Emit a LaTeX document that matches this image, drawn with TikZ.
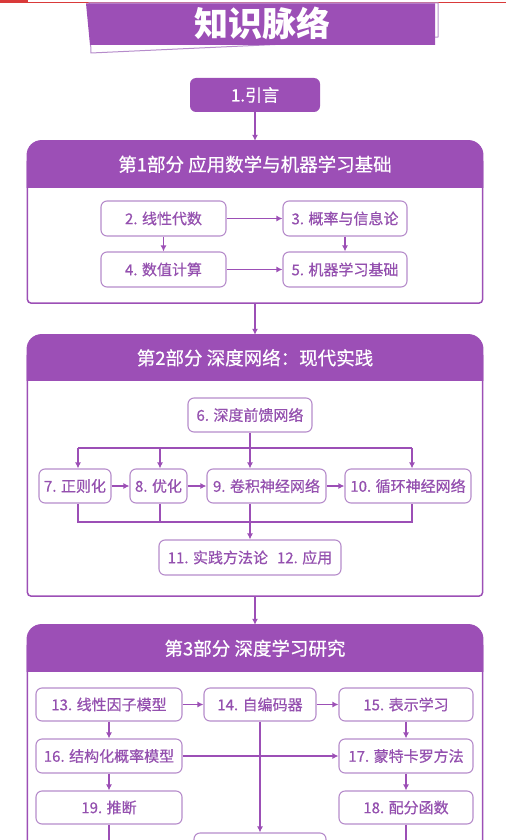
\documentclass[tikz,border=0pt]{standalone}
\usepackage{fontspec}
\setmainfont{Noto Sans CJK SC}
\newfontfamily\medfont{Noto Sans CJK SC}[FakeBold=0.6]
\usetikzlibrary{arrows.meta}
\definecolor{pp}{HTML}{9C4FB6}
\definecolor{pbord}{HTML}{B68CCB}
\definecolor{ptext}{HTML}{9450AF}
\definecolor{rd}{HTML}{D93A3A}
\tikzset{
  box/.style={draw=pbord, line width=1.1pt, fill=white, rounded corners=6pt, text=ptext,
    font=\medfont\fontsize{15}{17}\selectfont, minimum height=34pt, inner sep=0pt},
  arr/.style={draw=pp, line width=1.6pt, -{Latex[length=6pt,width=6pt]}},
  ln/.style={draw=pp, line width=1.6pt},
  hdr/.style={text=white, font=\medfont\fontsize{18.5}{20}\selectfont},
  partbox/.style={minimum width=455pt, inner sep=0pt}
}
\newcommand\mkpart[3]{%
  \draw[pp, line width=1.5pt, rounded corners=4pt] ([yshift=-20pt]#1.north west) -- (#1.south west) -- (#1.south east) -- ([yshift=-20pt]#1.north east);
  \begin{scope}
    \clip ([xshift=-2pt,yshift=2pt]#1.north west) rectangle ([xshift=2pt,yshift=-#2]#1.north east);
    \fill[pp, rounded corners=15pt] ([xshift=-0.75pt,yshift=0.75pt]#1.north west) rectangle ([xshift=0.75pt,yshift=-#2-30pt]#1.north east);
  \end{scope}
  \node[hdr] at ([yshift=-#2/2]#1.north) {#3};
}
\begin{document}
\begin{tikzpicture}[x=1pt,y=-1pt]
\useasboundingbox (0,0) rectangle (506,840);
\clip (0,0) rectangle (506,840);
% top red rule
\fill[rd] (0,0) rectangle (28,3);
\draw[rd, line width=0.8pt] (28,2.5) -- (506,2.5);
% title banner
\filldraw[fill=white, draw=pbord, line width=1pt] (89,3) -- (438,3) -- (438,37) -- (91,53) -- cycle;
\fill[pp] (86,3.4) -- (435,3.4) -- (435,45) -- (90,45) -- cycle;
\node[text=white, font=\fontsize{34}{36}\selectfont\bfseries] (title) at (262,23) {知识脉络};
% intro node
\node[fill=pp, rounded corners=6pt, minimum width=130pt, minimum height=34pt, inner sep=0pt,
  text=white, font=\medfont\fontsize{17}{19}\selectfont] (n1) at (255,95) {1.引言};

% part boxes
\node[partbox, minimum height=162pt] (p1) at (255,222) {};
\node[partbox, minimum height=261pt] (p2) at (255,465.5) {};
\node[partbox, minimum height=275pt] (p3) at (255,762.5) {};
\mkpart{p1}{47pt}{第1部分 应用数学与机器学习基础}
\mkpart{p2}{46pt}{第2部分 深度网络：现代实践}
\mkpart{p3}{47pt}{第3部分 深度学习研究}

\draw[arr] (n1.south) -- (n1.south |- p1.north);
\draw[arr] (p1.south) -- (p2.north);
\draw[arr] (p2.south) -- (p3.north);

% part 1
\node[box, minimum width=125pt, minimum height=35pt] (n2) at (163.5,218.5) {2. 线性代数};
\node[box, minimum width=124pt, minimum height=35pt] (n3) at (345,218.5) {3. 概率与信息论};
\node[box, minimum width=125pt, minimum height=35pt] (n4) at (163.5,269.5) {4. 数值计算};
\node[box, minimum width=124pt, minimum height=35pt] (n5) at (345,269.5) {5. 机器学习基础};
\draw[arr] (n2) -- (n3);
\draw[arr] (n4) -- (n5);
\draw[arr] (n2) -- (n4);
\draw[arr] (n3) -- (n5);

% part 2
\node[box, minimum width=124pt] (n6) at (250,415) {6. 深度前馈网络};
\node[box, minimum width=72pt] (n7) at (75,486) {7. 正则化};
\node[box, minimum width=57pt] (n8) at (158.5,486) {8. 优化};
\node[box, minimum width=119pt] (n9) at (266.5,486) {9. 卷积神经网络};
\node[box, minimum width=126pt] (n10) at (408,486) {10. 循环神经网络};
\node[box, minimum width=182pt, minimum height=35pt] (n11) at (250,557.5) {11. 实践方法论\hspace{0.6em}12. 应用};
\coordinate (t7) at (78,448);
\coordinate (t8) at (160,448);
\coordinate (t9) at (250,448);
\coordinate (t10) at (412,448);
\coordinate (m7) at (78,522);
\coordinate (m10) at (412,522);
\draw[ln] (n6.south) -- (t9);
\draw[ln] (t7) -- (t10);
\draw[arr] (t7) -- (t7 |- n7.north);
\draw[arr] (t8) -- (t8 |- n8.north);
\draw[arr] (t9) -- (t9 |- n9.north);
\draw[arr] (t10) -- (t10 |- n10.north);
\draw[arr] (n7) -- (n8);
\draw[arr] (n8) -- (n9);
\draw[arr] (n9) -- (n10);
\draw[ln] (t7 |- n7.south) -- (m7) -- (m10) -- (t10 |- n10.south);
\draw[ln] (t8 |- n8.south) -- (t8 |- m7);
\draw[arr] (t9 |- n9.south) -- (n11.north);

% part 3
\node[box, minimum width=146pt, minimum height=33pt] (n13) at (109,704.5) {13. 线性因子模型};
\node[box, minimum width=112pt, minimum height=33pt] (n14) at (260,704.5) {14. 自编码器};
\node[box, minimum width=134pt, minimum height=33pt] (n15) at (406,704.5) {15. 表示学习};
\node[box, minimum width=146pt] (n16) at (109,756) {16. 结构化概率模型};
\node[box, minimum width=134pt] (n17) at (406,756) {17. 蒙特卡罗方法};
\node[box, minimum width=146pt, minimum height=33pt] (n19) at (109,807.5) {19. 推断};
\node[box, minimum width=134pt, minimum height=33pt] (n18) at (406,807.5) {18. 配分函数};
\node[box, minimum width=132pt, minimum height=36pt] (n20) at (260,851) {};
\coordinate (e19) at (109,850);
\coordinate (e18) at (406,850);
\draw[arr] (n13) -- (n14);
\draw[arr] (n14) -- (n15);
\draw[arr] (n13) -- (n16);
\draw[arr] (n16) -- (n19);
\draw[arr] (n16) -- (n17);
\draw[arr] (n15) -- (n17);
\draw[arr] (n17) -- (n18);
\draw[arr] (n14) -- (n20);
\draw[ln] (n19) -- (e19);
\draw[ln] (n18) -- (e18);
\end{tikzpicture}
\end{document}
